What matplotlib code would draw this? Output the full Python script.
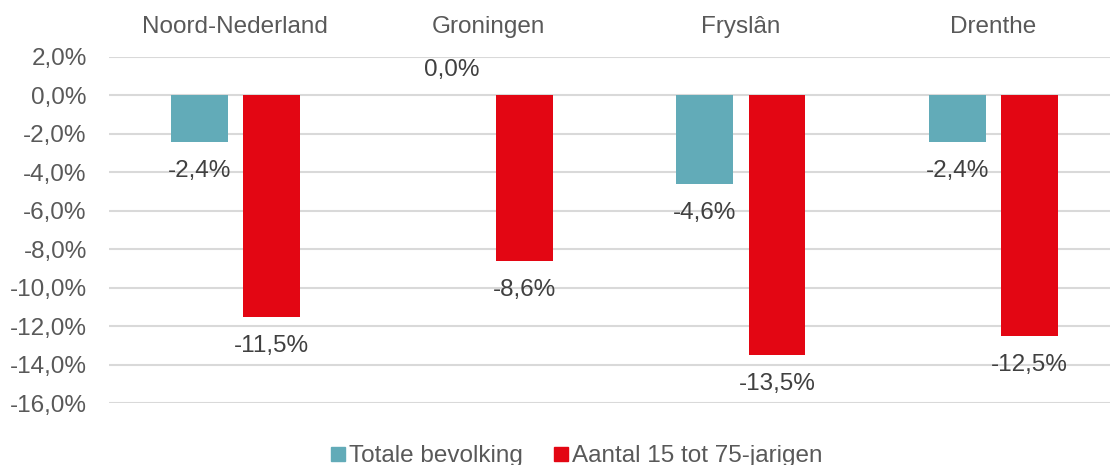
import matplotlib
matplotlib.use("Agg")
import matplotlib.pyplot as plt
from matplotlib.lines import Line2D
import numpy as np

categories = ["Noord-Nederland", "Groningen", "Fryslân", "Drenthe"]
totale = [-2.4, 0.0, -4.6, -2.4]
aantal = [-11.5, -8.6, -13.5, -12.5]
series_names = ["Totale bevolking", "Aantal 15 tot 75-jarigen"]
yticks = [2, 0, -2, -4, -6, -8, -10, -12, -14, -16]

teal = "#62ABB8"
red = "#E30613"
txt = "#595959"
fs = 17.5

plt.rcParams['font.family'] = ['Liberation Sans', 'DejaVu Sans']

W, H = 1110, 465
fig = plt.figure(figsize=(W / 100, H / 100), dpi=100)
# axes in pixel coordinates: left 109, right 1120, y top 57 (2%), bottom 403 (-16%)
ax = fig.add_axes([109 / W, (H - 403) / H, (1120 - 109) / W, (403 - 57) / H])
ax.set_xlim(-0.5, len(categories) - 0.5)
ax.set_ylim(-16, 2)

x = np.arange(len(categories))
bw = 0.225
off = 0.143
b1 = ax.bar(x - off, totale, bw, color=teal, zorder=3)
b2 = ax.bar(x + off, aantal, bw, color=red, zorder=3)

ax.set_yticks(yticks)
ax.set_yticklabels([f"{v:.1f}%".replace(".", ",") for v in yticks], fontsize=fs, color=txt)
ax.tick_params(axis='y', length=0, pad=16)
ax.set_xticks([])
ax.grid(axis='y', color="#D9D9D9", linewidth=1.5, zorder=0)
for s in ax.spines.values():
    s.set_visible(False)

for xi, c in zip(x, categories):
    ax.text(xi, 1 + 30 / 346, c, transform=ax.get_xaxis_transform(), ha='center', va='center',
            fontsize=fs, color=txt)

def fmt(v):
    return f"{v:.1f}%".replace(".", ",").replace("-0,0", "0,0")

for xs, vals in ((x - off, totale), (x + off, aantal)):
    for xi, v in zip(xs, vals):
        dy = -29 if v < 0 else 25
        ax.annotate(fmt(v), (xi, v), xytext=(0, dy), textcoords='offset pixels',
                    ha='center', va='center', fontsize=fs, color="#404040")

handles = [Line2D([], [], marker='s', linestyle='none', markersize=10.5, color=teal),
           Line2D([], [], marker='s', linestyle='none', markersize=10.5, color=red)]
fig.legend(handles, series_names, loc='center', bbox_to_anchor=(576 / W, (H - 456) / H),
           ncol=2, frameon=False, fontsize=fs, labelcolor=txt, handletextpad=0.1,
           columnspacing=1.25, handlelength=0.7)

fig.savefig("out.png", dpi=100)
